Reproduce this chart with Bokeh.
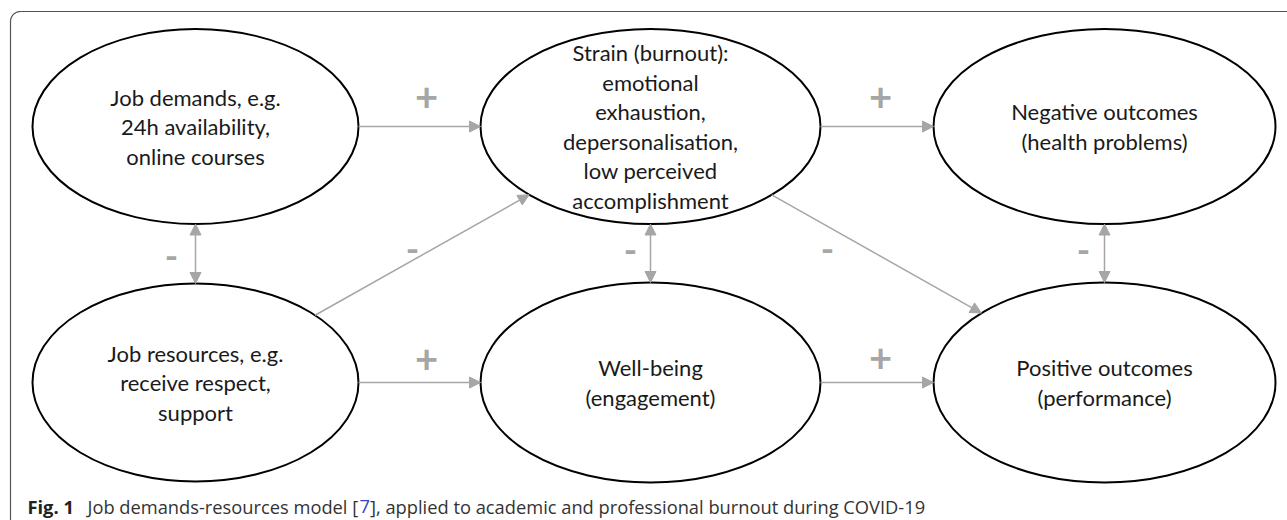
import numpy as np
from bokeh.plotting import figure
from bokeh.models import Range1d, Arrow, NormalHead
from bokeh.core.properties import value
from bokeh.embed import file_html
from bokeh.resources import INLINE

# ---- diagram content ----
node_labels = [
    ["Job demands, e.g.", "24h availability,", "online courses"],
    ["Strain (burnout):", "emotional", "exhaustion,", "depersonalisation,", "low perceived", "accomplishment"],
    ["Negative outcomes", "(health problems)"],
    ["Job resources, e.g.", "receive respect,", "support"],
    ["Well-being", "(engagement)"],
    ["Positive outcomes", "(performance)"],
]
# edges: (from, to, sign, bidirectional)
edge_from = [0, 1, 3, 4, 0, 1, 2, 3, 1]
edge_to = [1, 2, 4, 5, 3, 4, 5, 1, 5]
edge_sign = ["+", "+", "+", "+", "-", "-", "-", "-", "-"]
edge_both = [False, False, False, False, True, True, True, False, False]
caption_bold = "Fig. 1"
caption_a = "Job demands-resources model ["
caption_ref = "7"
caption_b = "], applied to academic and professional burnout during COVID-19"

# ---- layout (screen pixels) ----
node_x = [195, 650, 1104, 195, 650, 1104]
node_y = [126, 126, 126, 382, 382, 382]
node_rx = [163, 170, 171, 163, 170, 171]
node_ry = [97.5, 97.5, 97.5, 99, 100, 100]
sign_x = [426, 880, 426, 880, 171, 630, 1083, 412, 827]
sign_y = [96, 96, 358, 357, 255, 249, 249, 248, 248]
line_gap = 29.5

GRAY = "#a6a6a6"
W, H = 1287, 520
p = figure(width=W, height=H, x_range=Range1d(0, W), y_range=Range1d(H, 0),
           output_backend="svg", toolbar_location=None, min_border=0,
           x_axis_type=None, y_axis_type=None)
p.outline_line_color = None
p.background_fill_color = "white"
p.border_fill_color = "white"

# frame with rounded top-left corner
r = 10
ang = np.linspace(np.pi, 1.5 * np.pi, 20)
fx = np.concatenate([[10], 10 + r + r * np.cos(ang), [1300]])
fy = np.concatenate([[530], 11 + r + r * np.sin(ang), [11]])
p.line(fx, fy, line_color="#555555", line_width=1.2)


def boundary(i, j):
    dx, dy = node_x[j] - node_x[i], node_y[j] - node_y[i]
    t = 1.0 / np.hypot(dx / node_rx[i], dy / node_ry[i])
    return node_x[i] + t * dx, node_y[i] + t * dy


for a, b, both in zip(edge_from, edge_to, edge_both):
    xs, ys = boundary(a, b)
    xe, ye = boundary(b, a)
    head = lambda: NormalHead(size=11, fill_color=GRAY, line_color=GRAY, line_width=1)
    p.add_layout(Arrow(x_start=xs, y_start=ys, x_end=xe, y_end=ye,
                       start=head() if both else None, end=head(),
                       line_color=GRAY, line_width=1.5))

p.ellipse(x=node_x, y=node_y, width=[2 * v for v in node_rx], height=[2 * v for v in node_ry],
          fill_color="white", line_color="black", line_width=2)

tx, ty, tt = [], [], []
for cx, cy, lines in zip(node_x, node_y, node_labels):
    n = len(lines)
    for k, s in enumerate(lines):
        tx.append(cx)
        ty.append(cy + (k - (n - 1) / 2) * line_gap)
        tt.append(s)
p.text(x=tx, y=ty, text=tt, text_align="center", text_baseline="middle",
       text_font=value("Lato"), text_font_size="22px", text_color="#1a1a1a")

plus = [i for i, s in enumerate(edge_sign) if s == "+"]
minus = [i for i, s in enumerate(edge_sign) if s == "-"]
p.text(x=[sign_x[i] for i in plus], y=[sign_y[i] for i in plus], text=[edge_sign[i] for i in plus],
       text_align="center", text_baseline="middle",
       text_font=value("Lato"), text_font_size="40px", text_font_style="bold", text_color=GRAY)
p.text(x=[sign_x[i] for i in minus], y=[sign_y[i] for i in minus], text=[edge_sign[i] for i in minus],
       text_align="center", text_baseline="middle",
       text_font=value("Lato"), text_font_size="36px", text_font_style="bold", text_color=GRAY)

# caption
p.text(x=[27], y=[506], text=[caption_bold], text_baseline="alphabetic",
       text_font=value("Open Sans"), text_font_size="18.3px", text_font_style="bold", text_color="#222222")
p.text(x=[87, 359, 369.5], y=[506, 506, 506], text=[caption_a, caption_ref, caption_b],
       text_baseline="alphabetic", text_font=value("Open Sans"), text_font_size="18.3px",
       text_color=["#333333", "#3344cc", "#333333"])

open("out.html", "w").write(file_html(p, INLINE))
